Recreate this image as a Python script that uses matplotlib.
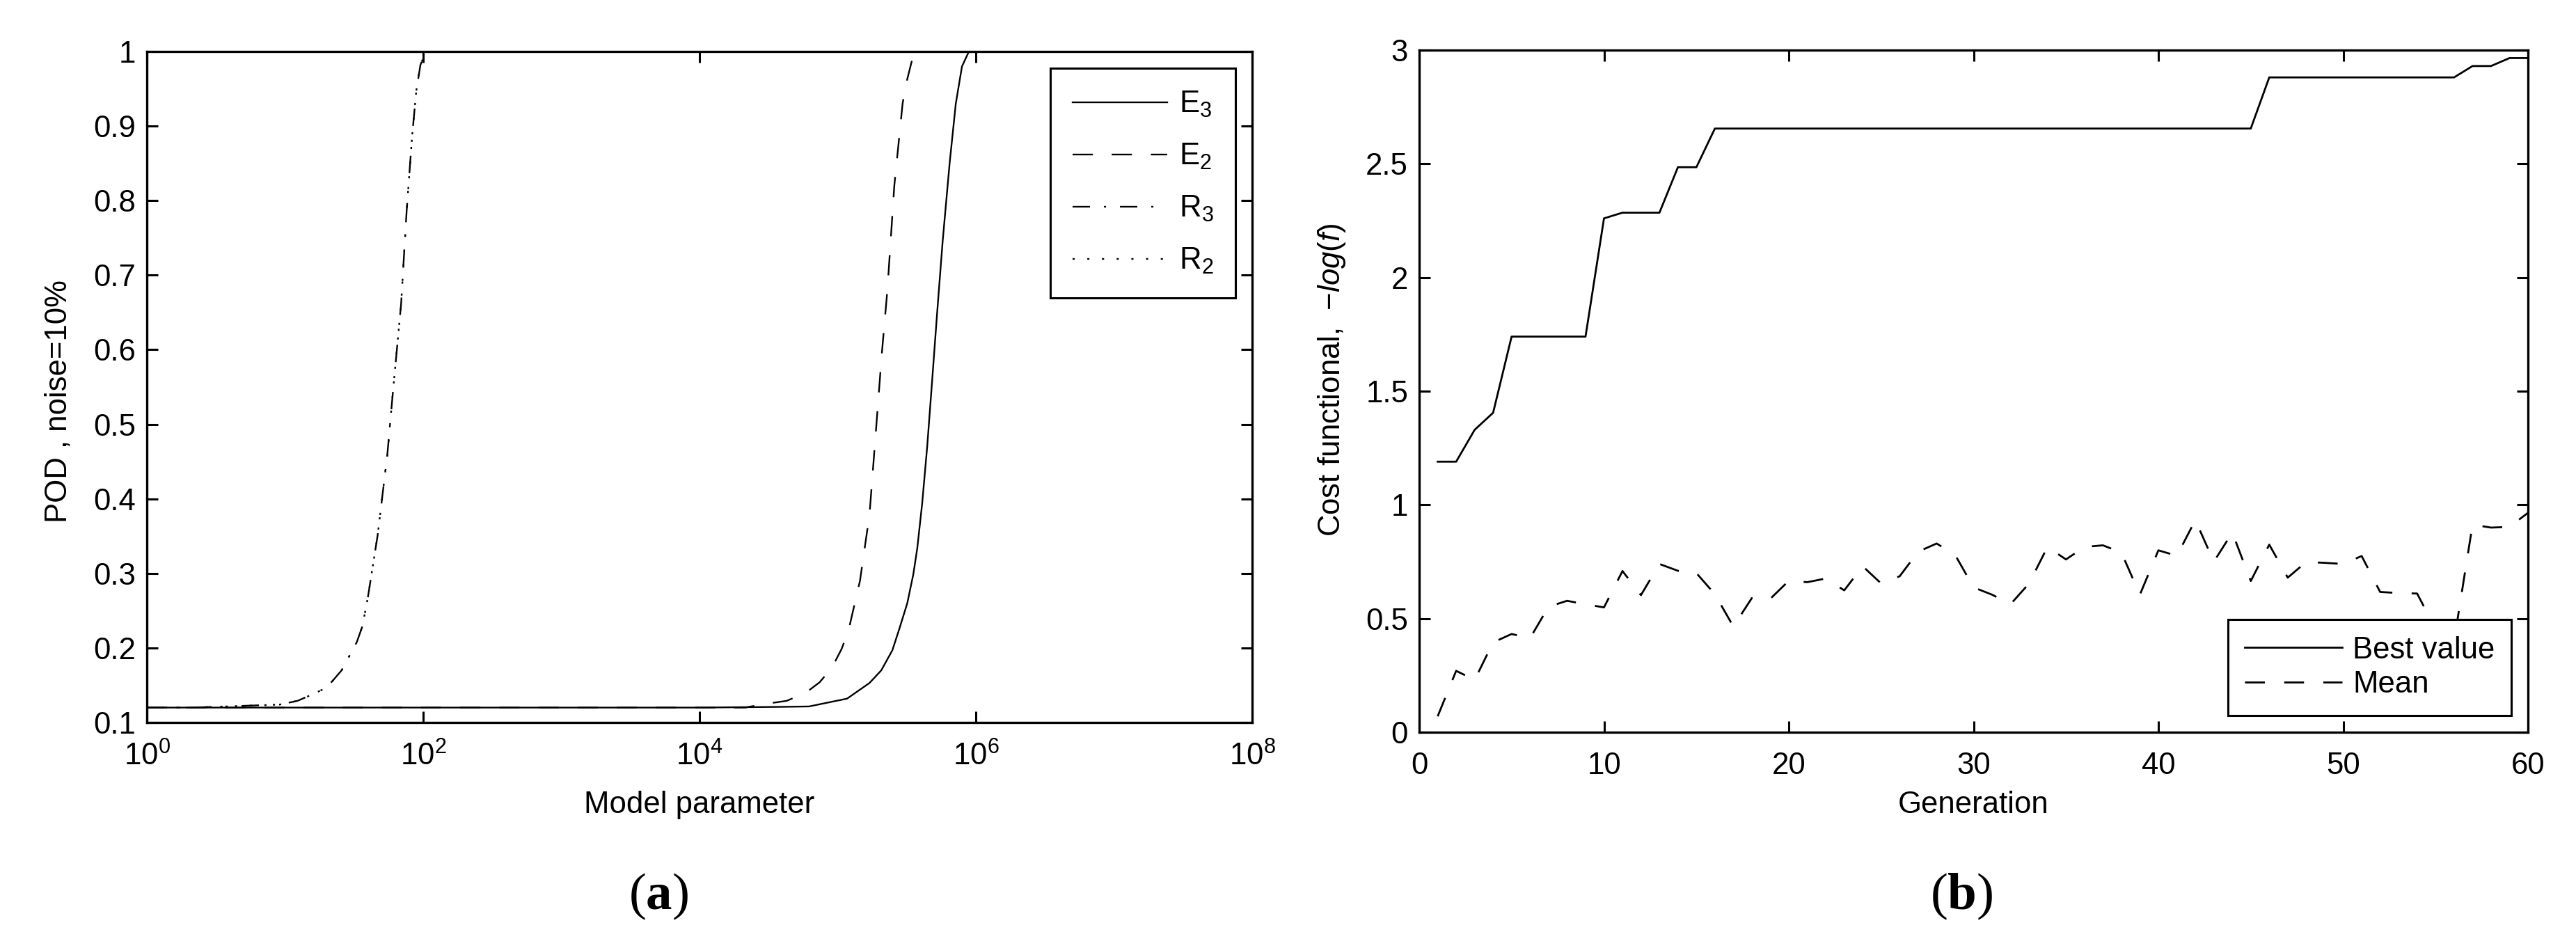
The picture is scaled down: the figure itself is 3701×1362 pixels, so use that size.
import numpy as np
import matplotlib
matplotlib.use("Agg")
import matplotlib.pyplot as plt
from matplotlib.ticker import FixedLocator, FixedFormatter, NullLocator

# ---------------- data: panel (a) ----------------
E3_x = [1e0, 1e4, 4.0e4, 6.2e4, 1.17e5, 1.70e5, 2.07e5, 2.49e5, 2.81e5, 3.19e5, 3.53e5, 3.77e5,
        4.09e5, 4.45e5, 4.79e5, 5.25e5, 5.75e5, 6.46e5, 7.16e5, 7.94e5, 8.91e5, 1e8]
E3_y = [0.12, 0.12, 0.121, 0.1215, 0.132, 0.153, 0.17, 0.197, 0.227, 0.26, 0.299, 0.334,
        0.394, 0.471, 0.55, 0.65, 0.745, 0.85, 0.93, 0.98, 1.0, 1.0]

E2_x = [1e0, 1e4, 2.14e4, 2.88e4, 4.27e4, 5.89e4, 7.41e4, 9.12e4, 1.07e5, 1.20e5, 1.45e5,
        1.70e5, 2.09e5, 2.29e5, 2.57e5, 2.95e5, 3.16e5, 3.47e5, 3.89e5, 1e8]
E2_y = [0.12, 0.12, 0.12, 0.1245, 0.129, 0.14, 0.154, 0.174, 0.199, 0.224, 0.29,
        0.379, 0.596, 0.68, 0.82, 0.93, 0.96, 0.99, 1.0, 1.0]

R3_x = [1.0, 2.14, 9.12, 12.3, 15.5, 19.1, 21.9, 25.7, 33.1, 36.3, 39.8,
        46.8, 55.0, 60.3, 69.2, 75.9, 83.2, 89.1, 95.5, 104.7, 1e8]
R3_y = [0.12, 0.12, 0.124, 0.129, 0.137, 0.145, 0.155, 0.170, 0.208, 0.229, 0.268,
        0.351, 0.459, 0.542, 0.661, 0.786, 0.887, 0.947, 0.982, 1.0, 1.0]

R2_x = [1.0, 2.14, 9.12, 12.3, 15.5, 19.1, 21.9, 25.7, 33.1, 36.3, 39.8,
        46.8, 55.0, 60.3, 69.2, 75.9, 83.2, 89.1, 95.5, 104.7, 1e8]
R2_y = [0.12, 0.12, 0.124, 0.129, 0.137, 0.145, 0.155, 0.170, 0.208, 0.229, 0.268,
        0.351, 0.459, 0.542, 0.661, 0.786, 0.887, 0.947, 0.982, 1.0, 1.0]

labels_a = [r"E$_3$", r"E$_2$", r"R$_3$", r"R$_2$"]
xticks_a = [1e0, 1e2, 1e4, 1e6, 1e8]
xticklabels_a = [r"$\mathdefault{10^{0}}$", r"$\mathdefault{10^{2}}$", r"$\mathdefault{10^{4}}$",
                 r"$\mathdefault{10^{6}}$", r"$\mathdefault{10^{8}}$"]
yticks_a = [0.1, 0.2, 0.3, 0.4, 0.5, 0.6, 0.7, 0.8, 0.9, 1.0]
yticklabels_a = ["0.1", "0.2", "0.3", "0.4", "0.5", "0.6", "0.7", "0.8", "0.9", "1"]

# ---------------- data: panel (b) ----------------
generation = list(range(1, 61))
best_value = [1.19, 1.19, 1.33, 1.405, 1.74, 1.74, 1.74, 1.74, 1.74, 2.26,
              2.285, 2.285, 2.285, 2.485, 2.485, 2.655, 2.655, 2.655, 2.655, 2.655,
              2.655, 2.655, 2.655, 2.655, 2.655, 2.655, 2.655, 2.655, 2.655, 2.655,
              2.655, 2.655, 2.655, 2.655, 2.655, 2.655, 2.655, 2.655, 2.655, 2.655,
              2.655, 2.655, 2.655, 2.655, 2.655, 2.88, 2.88, 2.88, 2.88, 2.88,
              2.88, 2.88, 2.88, 2.88, 2.88, 2.88, 2.93, 2.93, 2.965, 2.965]
mean_value = [0.07, 0.27, 0.23, 0.395, 0.432, 0.414, 0.552, 0.578, 0.563, 0.549,
              0.709, 0.603, 0.74, 0.71, 0.70, 0.607, 0.465, 0.59, 0.587, 0.666,
              0.66, 0.676, 0.624, 0.73, 0.654, 0.686, 0.794, 0.83, 0.78, 0.637,
              0.605, 0.563, 0.654, 0.815, 0.76, 0.815, 0.822, 0.79, 0.605, 0.80,
              0.776, 0.933, 0.75, 0.878, 0.665, 0.825, 0.68, 0.749, 0.745, 0.74,
              0.775, 0.617, 0.612, 0.61, 0.455, 0.40, 0.913, 0.90, 0.903, 0.965]
labels_b = ["Best value", "Mean"]
xticks_b = [0, 10, 20, 30, 40, 50, 60]
xticklabels_b = ["0", "10", "20", "30", "40", "50", "60"]
yticks_b = [0, 0.5, 1, 1.5, 2, 2.5, 3]
yticklabels_b = ["0", "0.5", "1", "1.5", "2", "2.5", "3"]

# ---------------- style ----------------
plt.rcParams["font.family"] = ["Liberation Sans", "DejaVu Sans"]
plt.rcParams["mathtext.fontset"] = "custom"
plt.rcParams["mathtext.rm"] = "Liberation Sans"
plt.rcParams["mathtext.it"] = "Liberation Sans:italic"
plt.rcParams["mathtext.bf"] = "Liberation Serif:bold"
plt.rcParams["lines.scale_dashes"] = False
plt.rcParams["lines.dash_capstyle"] = "butt"

FS = 31.5
W, H = 3701, 1362
fig = plt.figure(figsize=(W / 100, H / 100), dpi=100)
fig.patch.set_facecolor("white")

def px_axes(x0, y0, x1, y1):
    return fig.add_axes([x0 / W, 1 - y1 / H, (x1 - x0) / W, (y1 - y0) / H])

axL = px_axes(211, 74, 1799, 1038)
axR = px_axes(2039, 72, 3632, 1052)

DASH = (0, (21, 19.5))
DASHDOT = (0, (18, 14.4, 2.2, 14.4))
DOT = (0, (2.2, 13))

lwL = 1.7
axL.plot(E3_x, E3_y, color="k", lw=lwL, ls="-", label=labels_a[0])
axL.plot(E2_x, E2_y, color="k", lw=lwL, ls=DASH, label=labels_a[1])
axL.plot(R3_x, R3_y, color="k", lw=lwL, ls=DASHDOT, label=labels_a[2])
axL.plot(R2_x, R2_y, color="k", lw=lwL, ls=DOT, label=labels_a[3])
axL.set_xscale("log")
axL.set_xlim(1, 1e8)
axL.set_ylim(0.1, 1)
axL.xaxis.set_major_locator(FixedLocator(xticks_a))
axL.xaxis.set_major_formatter(FixedFormatter(xticklabels_a))
axL.xaxis.set_minor_locator(NullLocator())
axL.yaxis.set_major_locator(FixedLocator(yticks_a))
axL.yaxis.set_major_formatter(FixedFormatter(yticklabels_a))

lwR = 2.0
axR.plot(generation, best_value, color="k", lw=lwR, ls="-", label=labels_b[0])
axR.plot(generation, mean_value, color="k", lw=lwR, ls=(0, (20.5, 20)), label=labels_b[1])
axR.set_xlim(0, 60)
axR.set_ylim(0, 3)
axR.xaxis.set_major_locator(FixedLocator(xticks_b))
axR.xaxis.set_major_formatter(FixedFormatter(xticklabels_b))
axR.yaxis.set_major_locator(FixedLocator(yticks_b))
axR.yaxis.set_major_formatter(FixedFormatter(yticklabels_b))

for ax in (axL, axR):
    for s in ax.spines.values():
        s.set_linewidth(2.4)
    ax.tick_params(which="both", direction="in", top=True, right=True,
                   length=11.5, width=2.2, labelsize=FS)
    ax.tick_params(axis="x", pad=20)
    ax.tick_params(axis="y", pad=11.5)

legL = axL.legend(loc="upper right", fontsize=FS, frameon=True, fancybox=False,
                  edgecolor="k", framealpha=1, borderaxespad=0.54, handlelength=3.1,
                  handletextpad=0.4, labelspacing=0.75, borderpad=0.72)
legL.get_frame().set_linewidth(2.2)
legR = axR.legend(loc="lower right", fontsize=FS, frameon=True, fancybox=False,
                  edgecolor="k", framealpha=1, borderaxespad=0.54, handlelength=3.2,
                  handletextpad=0.35, labelspacing=0.2, borderpad=0.55)
legR.get_frame().set_linewidth(2.2)

# axis labels
fig.text(1005 / W, 1 - 1168 / H, "Model parameter", fontsize=FS, ha="center", va="baseline")
fig.text(2835 / W, 1 - 1168 / H, "Generation", fontsize=FS, ha="center", va="baseline")
fig.text(84 / W, 1 - 577 / H, "POD , noise=10%", fontsize=FS, rotation=90,
         ha="center", va="center")
fig.text(1913 / W, 1 - 546 / H, r"Cost functional,  $\mathit{-log(f)}$", fontsize=FS,
         rotation=90, ha="center", va="center")

# panel captions
fig.text(946 / W, 1 - 1288 / H, r"($\mathbf{a}$)", fontsize=54, family="Liberation Serif",
         ha="center", va="center")
fig.text(2818 / W, 1 - 1288 / H, r"($\mathbf{b}$)", fontsize=54, family="Liberation Serif",
         ha="center", va="center")

fig.savefig("out.png", dpi=100, facecolor="white")
